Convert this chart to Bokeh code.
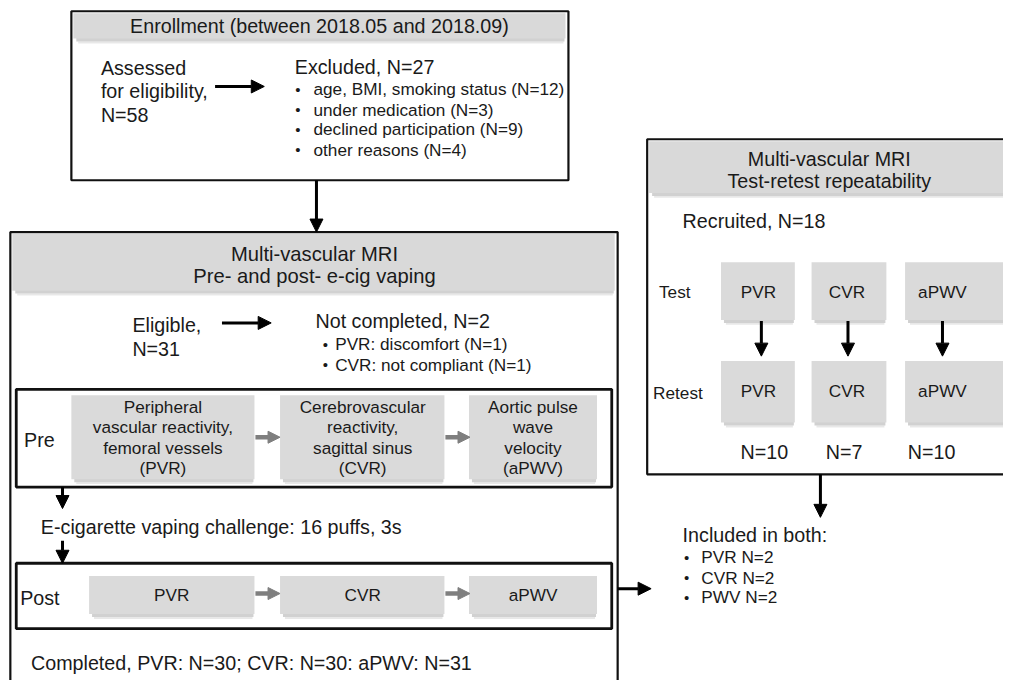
from bokeh.plotting import figure
from bokeh.models import Range1d, Arrow, NormalHead, ColumnDataSource
from bokeh.core.properties import value
from bokeh.embed import file_html
from bokeh.resources import INLINE

FONT = "Liberation Sans"

# ---- Diagram content (boxes: left, right, top, bottom in reference pixels) ----
frame_boxes = {
    "enroll": (72, 577, 11, 184),
    "main": (10, 627, 237, 720),
    "repeat": (657, 1040, 142, 485),
}
inner_frames = {
    "pre": (16, 621, 398, 498),
    "post": (16, 621, 576, 643),
}
header_bars = [
    (74, 574, 13, 39),
    (12, 624, 239, 297),
    (659, 1040, 144, 197),
]
grey_boxes = [
    (72, 258, 404, 490), (284, 451, 404, 490), (476, 606, 404, 490),
    (90, 258, 589, 628), (284, 451, 589, 628), (476, 606, 589, 628),
    (732, 807, 268, 327), (824, 900, 268, 327), (919, 1040, 268, 327),
    (732, 807, 369, 432), (824, 900, 369, 432), (919, 1040, 369, 432),
]

# headers
header_texts = ["Enrollment (between 2018.05 and 2018.09)",
                "Multi-vascular MRI", "Pre- and post- e-cig vaping",
                "Multi-vascular MRI", "Test-retest repeatability"]
header_x = [324, 319, 319, 842, 842]
header_y = [26, 259, 282, 162, 185]
header_size = ["19.7px", "20.2px", "20.2px", "19.7px", "19.7px"]

# body texts (left aligned)
body_texts = ["Assessed", "for eligibility,", "N=58", "Excluded, N=27",
              "Eligible,", "N=31", "Not completed, N=2",
              "Pre", "E-cigarette vaping challenge: 16 puffs, 3s", "Post",
              "Completed,  PVR: N=30; CVR: N=30: aPWV: N=31",
              "Recruited, N=18", "Test", "Retest", "Included in both:"]
body_x = [102, 102, 102, 299, 134, 134, 320, 24, 41, 20, 31, 693, 669, 663, 693]
body_y = [69, 93, 117, 68, 332, 357, 328, 450, 539, 612, 678, 226, 298, 402, 547]
body_size = ["19.7px"] * 12 + ["17.2px", "17.2px", "19.7px"]

# bullet lists
bullet_texts = ["age, BMI, smoking status (N=12)", "under medication (N=3)",
                "declined participation (N=9)", "other reasons (N=4)",
                "PVR: discomfort (N=1)", "CVR: not compliant (N=1)",
                "PVR N=2", "CVR N=2", "PWV N=2"]
bullet_dot_x = [302, 302, 302, 302, 330, 330, 697, 697, 697]
bullet_text_x = [318, 318, 318, 318, 340, 340, 712, 712, 712]
bullet_y = [91, 112, 132, 153, 352, 373, 570, 591, 611]

# texts inside grey boxes (centered)
box_texts = ["Peripheral", "vascular reactivity,", "femoral vessels", "(PVR)",
             "Cerebrovascular", "reactivity,", "sagittal sinus", "(CVR)",
             "Aortic pulse", "wave", "velocity", "(aPWV)",
             "PVR", "CVR", "aPWV",
             "PVR", "CVR", "aPWV",
             "PVR", "CVR", "aPWV"]
box_text_x = [165, 165, 165, 165, 368, 368, 368, 368, 541, 541, 541, 541,
              174, 368, 541, 770, 860, 957, 770, 860, 957]
box_text_y = [416, 437, 458, 478, 416, 437, 458, 478, 416, 437, 458, 478,
              608, 608, 608, 298, 298, 298, 400, 400, 400]

# sample sizes of retest
n_texts = ["N=10", "N=7", "N=10"]
n_x = [776, 857, 946]
n_y = [462, 462, 462]

# arrows: (x_start, y_start, x_end, y_end)
black_arrows = [
    (218, 88, 268, 88), (321, 184, 321, 237),
    (225, 330, 275, 330), (63, 498, 63, 520), (63, 553, 63, 576),
    (627, 602, 661, 602),
    (773, 328, 773, 364), (861, 328, 861, 364), (957, 328, 957, 364),
    (833, 485, 833, 529),
]
grey_arrows = [
    (259, 447, 284, 447), (452, 447, 477, 447),
    (259, 607, 284, 607), (452, 607, 477, 607),
]

# ---- figure ----
p = figure(width=1003, height=680, x_range=Range1d(0, 1019), y_range=Range1d(696, 0),
           output_backend="svg", toolbar_location=None, min_border=0,
           x_axis_type=None, y_axis_type=None, outline_line_color=None)
p.background_fill_color = "white"
p.border_fill_color = "white"


def cds(boxes):
    return ColumnDataSource(dict(left=[b[0] for b in boxes], right=[b[1] for b in boxes],
                                 top=[b[2] for b in boxes], bottom=[b[3] for b in boxes]))


# shadows for grey boxes & header bars
shadow = [(b[0] + 3, b[1] - 1, b[3] - 1, b[3] + 3) for b in grey_boxes + header_bars]
p.quad(source=cds(shadow), fill_color="#9a9a9a", fill_alpha=0.45, line_color=None)
shadow2 = [(b[0] + 5, b[1] - 2, b[3] + 3, b[3] + 5) for b in grey_boxes + header_bars]
p.quad(source=cds(shadow2), fill_color="#bdbdbd", fill_alpha=0.35, line_color=None)

p.quad(source=cds(header_bars), fill_color="#d9d9d9", line_color=None)
p.quad(source=cds(grey_boxes), fill_color="#dadada", line_color=None)

p.quad(source=cds(list(frame_boxes.values())), fill_color=None, line_color="#111111", line_width=2.2)
p.quad(source=cds(list(inner_frames.values())), fill_color=None, line_color="#111111", line_width=2.8)

# arrows
for (x0, y0, x1, y1) in black_arrows:
    p.add_layout(Arrow(x_start=x0, y_start=y0, x_end=x1, y_end=y1, line_width=3,
                       line_color="black",
                       end=NormalHead(size=13, fill_color="black", line_color="black", line_width=1)))
for (x0, y0, x1, y1) in grey_arrows:
    p.add_layout(Arrow(x_start=x0, y_start=y0, x_end=x1, y_end=y1, line_width=4.5,
                       line_color="#7f7f7f",
                       end=NormalHead(size=12, fill_color="#7f7f7f", line_color="#7f7f7f", line_width=1)))

TXT = "#1a1a1a"
p.text(x=header_x, y=header_y, text=header_texts, text_font=value(FONT),
       text_font_size=header_size, text_align="center", text_baseline="middle", text_color=TXT)
p.text(x=body_x, y=body_y, text=body_texts, text_font=value(FONT),
       text_font_size=body_size, text_align="left", text_baseline="middle", text_color=TXT)
p.text(x=bullet_dot_x, y=bullet_y, text=["•"] * len(bullet_y), text_font=value(FONT),
       text_font_size="15px", text_align="center", text_baseline="middle", text_color=TXT)
p.text(x=bullet_text_x, y=bullet_y, text=bullet_texts, text_font=value(FONT),
       text_font_size="17.2px", text_align="left", text_baseline="middle", text_color=TXT)
p.text(x=box_text_x, y=box_text_y, text=box_texts, text_font=value(FONT),
       text_font_size="17.2px", text_align="center", text_baseline="middle", text_color=TXT)
p.text(x=n_x, y=n_y, text=n_texts, text_font=value(FONT),
       text_font_size="19.7px", text_align="center", text_baseline="middle", text_color=TXT)

open("out.html", "w").write(file_html(p, INLINE))
